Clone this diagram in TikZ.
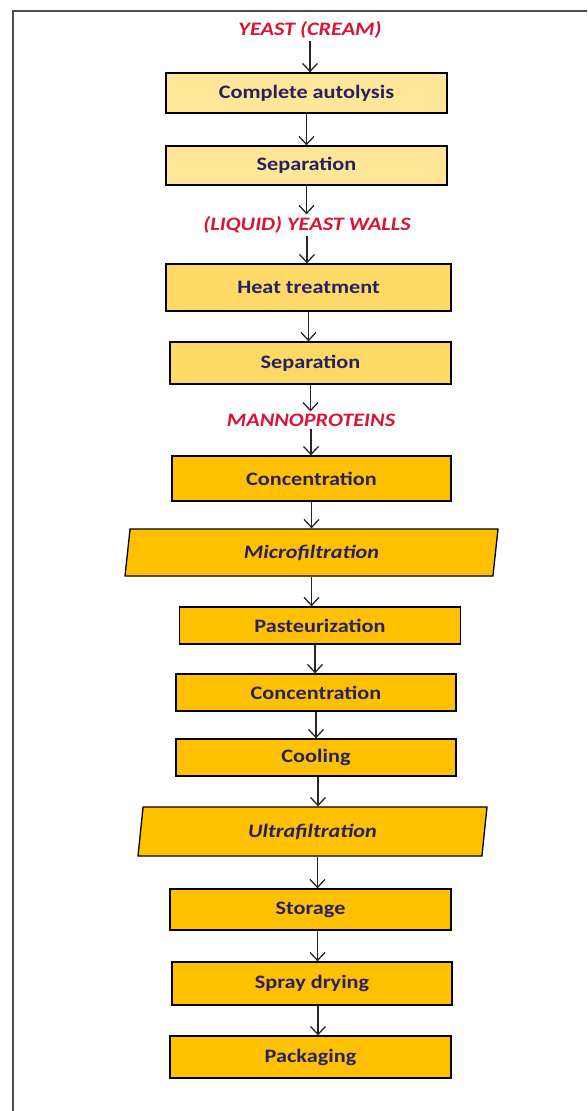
\documentclass[tikz,border=0pt]{standalone}
\usepackage{fontspec}
\setmainfont{Carlito}[FakeStretch=1.17]
\usepackage{tikz}
\usetikzlibrary{shapes.geometric,arrows.meta}

\definecolor{paleyellow}{RGB}{255,230,153}
\definecolor{midyellow}{RGB}{255,217,102}
\definecolor{deepyellow}{RGB}{255,192,0}
\definecolor{navytext}{RGB}{38,34,98}
\definecolor{redtext}{RGB}{218,20,50}

\begin{document}
\begin{tikzpicture}[x=1pt,y=1pt,yscale=-1,xscale=1,
	stepbox/.style={draw=black, line width=1.3pt, text=navytext, font=\fontsize{19}{23}\selectfont\bfseries, inner sep=0pt},
	filterbox/.style={stepbox, shape=trapezium, trapezium left angle=72, trapezium right angle=108, trapezium stretches body=true, font=\fontsize{19}{23}\selectfont\bfseries\itshape},
	product/.style={text=redtext, font=\fontsize{19}{23}\selectfont\bfseries\itshape, inner sep=2pt},
	flow/.style={draw=black!85, line width=1.3pt, -{Straight Barb[length=8pt,width=15pt,line width=1.3pt]}}]
				\useasboundingbox (0,0) rectangle (587,1111);
				
				%Straight Lines: page frame
				\draw [line width=1.6pt, black!70] (13,1111) -- (13,11) -- (587,11) ;
				
				% Text Node
				\node [product] (yeast) at (310,30) {YEAST (CREAM)};
				%Shape: Rectangle
				\node [stepbox, fill=paleyellow, minimum width=281, minimum height=40] (autolysis) at (306.5,93) {Complete autolysis};
				%Shape: Rectangle
				\node [stepbox, fill=paleyellow, minimum width=281, minimum height=39] (separationA) at (306.5,165.5) {Separation};
				% Text Node
				\node [product] (walls) at (307,225) {(LIQUID) YEAST WALLS};
				%Shape: Rectangle
				\node [stepbox, fill=midyellow, minimum width=285, minimum height=47] (heat) at (308.5,287.5) {Heat treatment};
				%Shape: Rectangle
				\node [stepbox, fill=midyellow, minimum width=281, minimum height=42] (separationB) at (310.5,363) {Separation};
				% Text Node
				\node [product] (manno) at (311,420) {MANNOPROTEINS};
				%Shape: Rectangle
				\node [stepbox, fill=deepyellow, minimum width=279, minimum height=45] (concA) at (311.5,478.5) {Concentration};
				%Shape: Parallelogram
				\node [filterbox, fill=deepyellow, minimum width=373, minimum height=47] (micro) at (311.5,552.5) {Microfiltration};
				%Shape: Rectangle
				\node [stepbox, fill=deepyellow, minimum width=281, minimum height=37] (pasteur) at (320,625.5) {Pasteurization};
				%Shape: Rectangle
				\node [stepbox, fill=deepyellow, minimum width=280, minimum height=37] (concB) at (316,692.5) {Concentration};
				%Shape: Rectangle
				\node [stepbox, fill=deepyellow, minimum width=280, minimum height=37] (cooling) at (316,757.5) {Cooling};
				%Shape: Parallelogram
				\node [filterbox, fill=deepyellow, minimum width=349, minimum height=49] (ultra) at (312.5,831.5) {Ultrafiltration};
				%Shape: Rectangle
				\node [stepbox, fill=deepyellow, minimum width=281, minimum height=41] (storage) at (310.5,909.5) {Storage};
				%Shape: Rectangle
				\node [stepbox, fill=deepyellow, minimum width=280, minimum height=43] (spray) at (312,983.5) {Spray drying};
				%Shape: Rectangle
				\node [stepbox, fill=deepyellow, minimum width=281, minimum height=42] (packaging) at (310.5,1057) {Packaging};
				
				%Straight Lines: arrows
				\draw [flow] (yeast.south) -- (yeast.south |- autolysis.north) ;
				\draw [flow] (autolysis.south) -- (autolysis.south |- separationA.north) ;
				\draw [flow] (separationA.south) -- (separationA.south |- walls.north) ;
				\draw [flow] (walls.south) -- (walls.south |- heat.north) ;
				\draw [flow] (heat.south) -- (heat.south |- separationB.north) ;
				\draw [flow] (separationB.south) -- (separationB.south |- manno.north) ;
				\draw [flow] (manno.south) -- (manno.south |- concA.north) ;
				\draw [flow] (concA.south) -- (concA.south |- micro.north) ;
				\draw [flow] (micro.south) -- (micro.south |- pasteur.north) ;
				\draw [flow] ([xshift=-5]pasteur.south) -- ([xshift=-5]pasteur.south |- concB.north) ;
				\draw [flow] (concB.south) -- (concB.south |- cooling.north) ;
				\draw [flow] ([xshift=2]cooling.south) -- ([xshift=2]cooling.south |- ultra.north) ;
				\draw [flow] ([xshift=5]ultra.south) -- ([xshift=5]ultra.south |- storage.north) ;
				\draw [flow] ([xshift=7]storage.south) -- ([xshift=7]storage.south |- spray.north) ;
				\draw [flow] ([xshift=6]spray.south) -- ([xshift=6]spray.south |- packaging.north) ;
				
\end{tikzpicture}
\end{document}
